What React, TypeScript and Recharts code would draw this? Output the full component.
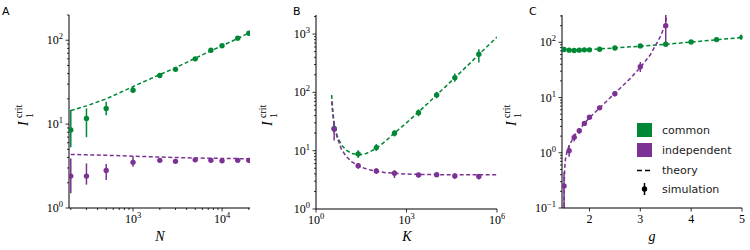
import React from 'react';
import { ComposedChart, Line, Scatter, ErrorBar, XAxis, YAxis } from 'recharts';

const GREEN = '#008837';
const PURPLE = '#7b3294';
const SERIF = '"Liberation Serif", "DejaVu Serif", serif';
const SANS = '"DejaVu Sans", sans-serif';

// ---- panel A: threshold vs N ----
const nValues = [200, 300, 500, 1000, 2000, 3000, 5000, 7500, 10000, 15000, 20000];
const commonN = [8.5, 11.7, 15.4, 25.4, 38, 45, 60, 76, 86, 106, 121];
const commonNLow = [5.3, 7.0, 12.8, 23.5, 36, 43, 57, 72, 82, 101, 116];
const commonNHigh = [14.7, 15.4, 18.5, 27.5, 40, 47.5, 63, 80, 90, 111, 126];
const indepN = [2.4, 2.4, 2.8, 3.5, 3.7, 3.6, 3.75, 3.7, 3.65, 3.7, 3.7];
const indepNLow = [1.5, 1.9, 2.15, 3.1, 3.55, 3.45, 3.6, 3.55, 3.5, 3.55, 3.55];
const indepNHigh = [3.9, 3.4, 3.35, 4.1, 3.85, 3.75, 3.9, 3.85, 3.8, 3.85, 3.85];
const theoryCommonN = [14.5, 16.5, 20, 28, 39, 47, 61, 75, 86, 105, 122];
const theoryIndepN = [4.35, 4.3, 4.25, 4.15, 4.05, 4.0, 3.95, 3.92, 3.9, 3.88, 3.85];

// ---- panel B: threshold vs K ----
const kValues = [4, 25, 100, 400, 2500, 10000, 40000, 250000];
const commonK = [24, 8.8, 11.3, 19.9, 44.9, 90, 178, 450];
const commonKLow = [20, 7.5, 9.9, 17.5, 39, 79, 152, 325];
const commonKHigh = [28, 10.2, 13, 22.5, 51, 102, 210, 550];
const indepK = [23.5, 5.5, 4.5, 4.1, 3.83, 3.87, 3.67, 3.6];
const indepKLow = [14.9, 4.9, 4.0, 3.4, 3.5, 3.6, 3.3, 3.2];
const indepKHigh = [29.5, 6.1, 5.0, 4.6, 4.2, 4.1, 4.1, 4.0];
const theoryK = [3.3, 3.6, 4, 5, 7, 10, 15, 25, 40, 60, 100, 200, 400, 1000, 2500, 10000, 40000, 100000, 250000, 1000000];
const theoryCommonK = [90, 50, 28, 18, 12.5, 10.2, 9, 8.5, 8.7, 9.5, 11, 14.5, 20, 30, 46, 90, 178, 280, 445, 890];
const theoryIndepK = [70, 42, 28, 17, 10.5, 8, 6.5, 5.5, 5, 4.7, 4.45, 4.2, 4.1, 3.98, 3.92, 3.88, 3.86, 3.85, 3.85, 3.85];

// ---- panel C: threshold vs g ----
const gValues = [1.5, 1.6, 1.7, 1.8, 1.9, 2.0, 2.2, 2.5, 3.0, 3.5, 4.0, 4.5, 5.0];
const commonG = [74, 72, 71, 72, 73, 73, 75, 79, 86, 92, 101, 112, 124];
const commonGLow = [68, 67, 66, 67, 68, 68, 70, 74, 81, 87, 95, 102, 116];
const commonGHigh = [80, 77, 76, 77, 78, 78, 80, 84, 91, 97, 107, 122, 132];
const gIndep = [1.5, 1.6, 1.7, 1.8, 1.9, 2.0, 2.2, 2.5, 3.0, 3.5];
const indepG = [0.25, 1.09, 1.9, 2.5, 3.4, 4.4, 6.5, 11.7, 36, 200];
const indepGLow = [0.1, 0.85, 1.6, 2.2, 3.1, 4.0, 6.0, 10.5, 29, 95];
const indepGHigh = [0.45, 1.35, 2.2, 2.8, 3.7, 4.8, 7.1, 13, 44, 312];
const theoryGCommon = [1.46, 2, 2.5, 3, 3.5, 4, 4.5, 5];
const theoryCommonG = [73, 74, 79, 85, 92, 101, 111, 122];
const theoryGIndep = [1.5, 1.505, 1.515, 1.53, 1.56, 1.6, 1.7, 1.8, 1.9, 2.0, 2.2, 2.5, 2.8, 3.0, 3.2, 3.4, 3.5, 3.53];
const theoryIndepG = [0.08, 0.3, 0.55, 0.8, 1.05, 1.35, 2.0, 2.6, 3.4, 4.3, 6.5, 12, 22, 35, 60, 130, 220, 400];

// tick lists
const minors = (decades: number[]) => decades.flatMap(d => [2, 3, 4, 5, 6, 7, 8, 9].map(m => m * d));
const ticksNx = [...minors([100, 1000]).filter(v => v >= 200), 1000, 10000, 20000];
const ticksAy = [1, 10, 100, ...minors([1, 10]), 200];
const ticksKx = [1, 1000, 1000000];
const ticksBy = [1, 10, 100, 1000, ...minors([1, 10, 100]), 2000];
const ticksGx = [2, 3, 4, 5];
const ticksCy = [0.1, 1, 10, 100, ...minors([0.1, 1, 10]), 200, 300];

const pts = (xs: number[], ys: number[], lo?: number[], hi?: number[]) =>
  xs.map((x, i) => ({ x, y: ys[i], err: lo && hi ? [ys[i] - lo[i], hi[i] - ys[i]] : [0, 0] }));

const expText = (v: number) => {
  const e = Math.round(Math.log10(v));
  return e < 0 ? '\u2212' + -e : String(e);
};
const isPow10 = (v: number) => Math.abs(Math.log10(v) - Math.round(Math.log10(v))) < 1e-9;

const LogXTick = (p: any) => {
  const v = p.payload.value;
  const major = isPow10(v);
  return (
    <g>
      <line x1={p.x} x2={p.x} y1={p.y} y2={p.y + (major ? 3.5 : 2)} stroke="#000" strokeWidth={0.8} />
      {major && (
        <text x={p.x} y={p.y + 14.5} textAnchor="middle" fontFamily={SERIF} fontSize={12} fill="#000">
          10<tspan dy={-5} fontSize={8.5}>{expText(v)}</tspan>
        </text>
      )}
    </g>
  );
};

const LogYTick = (p: any) => {
  const v = p.payload.value;
  const major = isPow10(v);
  return (
    <g>
      <line x1={p.x - (major ? 3.5 : 2)} x2={p.x} y1={p.y} y2={p.y} stroke="#000" strokeWidth={0.8} />
      {major && (
        <text x={p.x - 6} y={p.y + 4} textAnchor="end" fontFamily={SERIF} fontSize={12} fill="#000">
          10<tspan dy={-5} fontSize={8.5}>{expText(v)}</tspan>
        </text>
      )}
    </g>
  );
};

const LinXTick = (p: any) => (
  <g>
    <line x1={p.x} x2={p.x} y1={p.y} y2={p.y + 3.5} stroke="#000" strokeWidth={0.8} />
    <text x={p.x} y={p.y + 14.5} textAnchor="middle" fontFamily={SERIF} fontSize={12} fill="#000">
      {p.payload.value}
    </text>
  </g>
);

const dot = (color: string) => (p: any) => <circle cx={p.cx} cy={p.cy} r={2.7} fill={color} />;

const axisLine = { stroke: '#000', strokeWidth: 1 };

interface PanelProps {
  left: number;
  width: number;
  yAxisWidth: number;
  xAxisHeight: number;
  xDomain: [number, number];
  yDomain: [number, number];
  xLog: boolean;
  xTicks: number[];
  yTicks: number[];
  theory: { data: { x: number; y: number }[]; color: string }[];
  sims: { data: { x: number; y: number; err: number[] }[]; color: string }[];
}

const Panel: React.FC<PanelProps> = ({ left, width, yAxisWidth, xAxisHeight, xDomain, yDomain, xLog, xTicks, yTicks, theory, sims }) => (
  <div style={{ position: 'absolute', left, top: 0 }}>
    <ComposedChart width={width} height={250} margin={{ top: 15, right: 8, bottom: 0, left: 0 }}>
      <XAxis
        dataKey="x"
        type="number"
        scale={xLog ? 'log' : 'linear'}
        domain={xDomain}
        allowDataOverflow
        ticks={xTicks}
        interval={0}
        height={xAxisHeight}
        tickSize={0}
        tickMargin={0}
        tickLine={false}
        axisLine={axisLine}
        tick={xLog ? LogXTick : LinXTick}
      />
      <YAxis
        dataKey="y"
        type="number"
        scale="log"
        domain={yDomain}
        allowDataOverflow
        ticks={yTicks}
        interval={0}
        width={yAxisWidth}
        tickSize={0}
        tickMargin={0}
        tickLine={false}
        axisLine={axisLine}
        tick={LogYTick}
      />
      {sims.map((s, i) => (
        <Scatter key={'s' + i} data={s.data} dataKey="y" isAnimationActive={false} shape={dot(s.color)}>
          <ErrorBar dataKey="err" direction="y" width={0} stroke={s.color} strokeWidth={1.5} isAnimationActive={false} />
        </Scatter>
      ))}
      {theory.map((t, i) => (
        <Line
          key={'t' + i}
          data={t.data}
          dataKey="y"
          type="linear"
          stroke={t.color}
          strokeWidth={1.5}
          strokeDasharray="4 2.5"
          dot={false}
          isAnimationActive={false}
        />
      ))}
    </ComposedChart>
  </div>
);

const YLabel: React.FC<{ cx: number; cy: number }> = ({ cx, cy }) => (
  <g transform={`translate(${cx},${cy}) rotate(-90)`} fontFamily={SERIF} fill="#000">
    <text x={-14} y={4} fontSize={14} fontStyle="italic">I</text>
    <text x={-6} y={-2} fontSize={10}>crit</text>
    <text x={-6} y={9} fontSize={10}>1</text>
  </g>
);

export default function App() {
  return (
    <div style={{ position: 'absolute', left: 0, top: 0, width: 750, height: 250, background: '#fff' }}>
      <Panel
        left={0}
        width={258}
        yAxisWidth={69}
        xAxisHeight={42}
        xDomain={[191, 20600]}
        yDomain={[1, 200]}
        xLog
        xTicks={ticksNx}
        yTicks={ticksAy}
        theory={[
          { data: pts(nValues, theoryCommonN), color: GREEN },
          { data: pts(nValues, theoryIndepN), color: PURPLE },
        ]}
        sims={[
          { data: pts(nValues, commonN, commonNLow, commonNHigh), color: GREEN },
          { data: pts(nValues, indepN, indepNLow, indepNHigh), color: PURPLE },
        ]}
      />
      <Panel
        left={250}
        width={255}
        yAxisWidth={66}
        xAxisHeight={41}
        xDomain={[1, 1000000]}
        yDomain={[1, 2120]}
        xLog
        xTicks={ticksKx}
        yTicks={ticksBy}
        theory={[
          { data: pts(theoryK, theoryCommonK), color: GREEN },
          { data: pts(theoryK, theoryIndepK), color: PURPLE },
        ]}
        sims={[
          { data: pts(kValues, commonK, commonKLow, commonKHigh), color: GREEN },
          { data: pts(kValues, indepK, indepKLow, indepKHigh), color: PURPLE },
        ]}
      />
      <Panel
        left={500}
        width={250}
        yAxisWidth={62}
        xAxisHeight={42}
        xDomain={[1.46, 5]}
        yDomain={[0.1, 312]}
        xLog={false}
        xTicks={ticksGx}
        yTicks={ticksCy}
        theory={[
          { data: pts(theoryGCommon, theoryCommonG), color: GREEN },
          { data: pts(theoryGIndep, theoryIndepG), color: PURPLE },
        ]}
        sims={[
          { data: pts(gValues, commonG, commonGLow, commonGHigh), color: GREEN },
          { data: pts(gIndep, indepG, indepGLow, indepGHigh), color: PURPLE },
        ]}
      />
      <svg width={750} height={250} style={{ position: 'absolute', left: 0, top: 0, pointerEvents: 'none' }}>
        <g fontFamily={SANS} fontSize={11} fill="#000">
          <text x={2} y={15}>A</text>
          <text x={293} y={15}>B</text>
          <text x={529} y={15}>C</text>
        </g>
        <YLabel cx={24} cy={112} />
        <YLabel cx={268} cy={112} />
        <YLabel cx={512} cy={112} />
        <g fontFamily={SERIF} fontSize={14} fontStyle="italic" fill="#000" textAnchor="middle">
          <text x={160} y={241}>N</text>
          <text x={407} y={241}>K</text>
          <text x={652} y={241}>g</text>
        </g>
        <g fontFamily={SANS} fontSize={11} fill="#222">
          <rect x={637} y={123} width={15} height={14} fill={GREEN} />
          <rect x={637} y={143} width={15} height={14} fill={PURPLE} />
          <line x1={637} x2={652} y1={170.5} y2={170.5} stroke="#000" strokeWidth={1.5} strokeDasharray="5 3" />
          <line x1={644.5} x2={644.5} y1={183} y2={195} stroke="#000" strokeWidth={1.5} />
          <circle cx={644.5} cy={189} r={2.7} fill="#000" />
          <text x={662} y={134}>common</text>
          <text x={662} y={154}>independent</text>
          <text x={662} y={174}>theory</text>
          <text x={662} y={193}>simulation</text>
        </g>
      </svg>
    </div>
  );
}
